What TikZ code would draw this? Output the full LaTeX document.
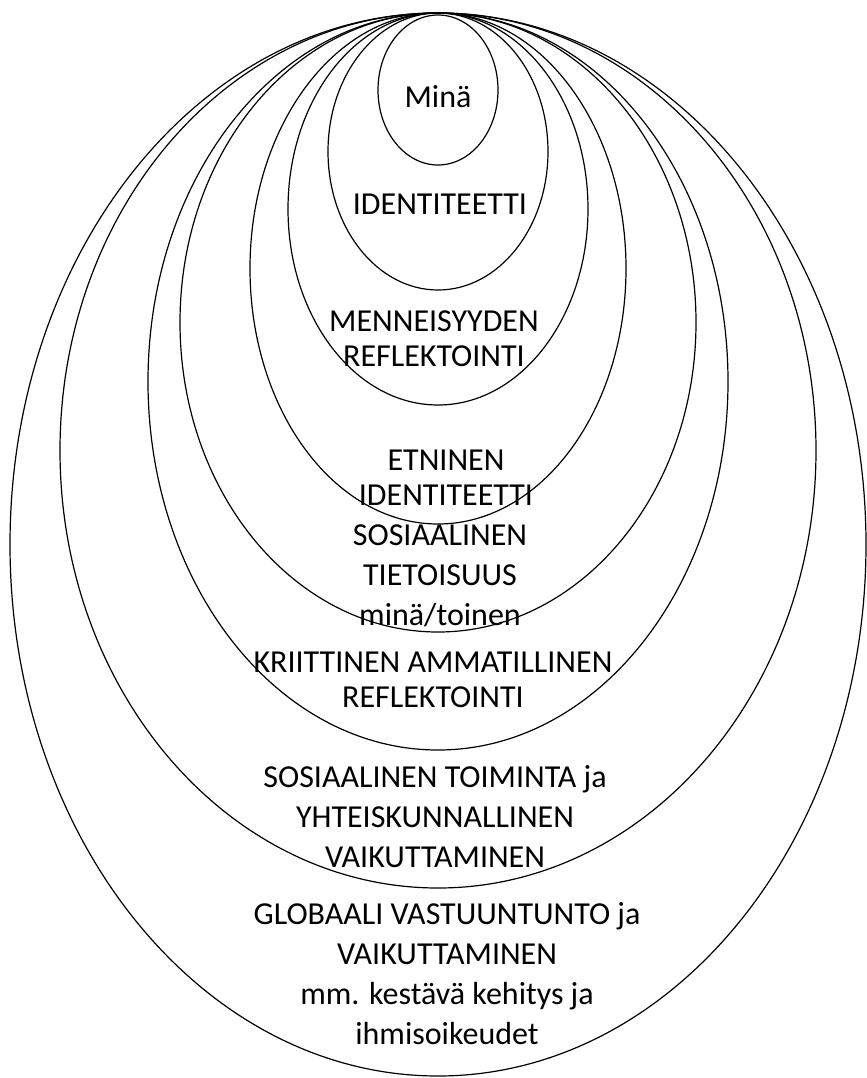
\documentclass[tikz,border=0pt]{standalone}
\usepackage{fontspec}
\setmainfont{Carlito}

\begin{document}
\begin{tikzpicture}[x=0.75pt,y=-0.75pt,line width=0.9pt,
  ring/.style={draw=black},
  lbl/.style={align=center,font=\fontsize{24}{26}\selectfont},
  lbltall/.style={align=center,font=\fontsize{24}{30}\selectfont}]
\useasboundingbox (0,0) rectangle (867,1078);
% rings, outermost first
\draw[ring] (438,544.5) ellipse [x radius=428,y radius=531.5];
\draw[ring] (438,450.5) ellipse [x radius=378,y radius=437.5];
\draw[ring] (438,381.5) ellipse [x radius=290,y radius=368.5];
\draw[ring] (438,322.5) ellipse [x radius=258,y radius=309.5];
\draw[ring] (438,268.5) ellipse [x radius=188,y radius=255.5];
\draw[ring] (438,209) ellipse [x radius=150,y radius=196];
\draw[ring] (438,151.5) ellipse [x radius=110,y radius=138.5];
\draw[ring] (438,90) ellipse [x radius=60,y radius=75];
% labels
\node[lbl] (mina) at (438,97) {Minä};
\node[lbl] (ident) at (440,204) {IDENTITEETTI};
\node[lbl] (menn) at (434,338.5) {MENNEISYYDEN\\REFLEKTOINTI};
\node[lbl] (etn) at (446,478) {ETNINEN\\IDENTITEETTI};
\node[lbltall] (sostiet) at (440,576) {SOSIAALINEN\\TIETOISUUS\\minä/toinen};
\node[lbl] (krit) at (433,680) {KRIITTINEN AMMATILLINEN\\REFLEKTOINTI};
\node[lbltall] (sostoim) at (435,817) {SOSIAALINEN TOIMINTA ja\\YHTEISKUNNALLINEN\\VAIKUTTAMINEN};
\node[lbltall] (glob) at (447,973.5) {GLOBAALI VASTUUNTUNTO ja\\VAIKUTTAMINEN\\mm. kestävä kehitys ja\\ihmisoikeudet};
\end{tikzpicture}
\end{document}
